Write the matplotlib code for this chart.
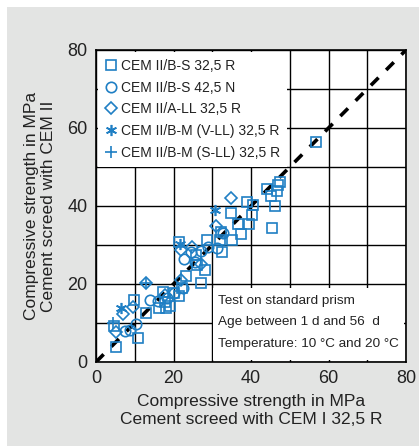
import matplotlib
matplotlib.use("Agg")
import matplotlib.pyplot as plt
from matplotlib.patches import Rectangle
from matplotlib.ticker import MultipleLocator

plt.rcParams['font.family'] = ['Liberation Sans', 'DejaVu Sans']

# strength pairs (CEM I 32,5 R screed, CEM II screed) in MPa
sq_x = [56.8, 47.5, 46.9, 44.0, 46.6, 45.2, 39.0, 40.6, 46.2, 34.8, 40.3, 36.7, 39.6, 45.5,
        37.3, 35.0, 32.0, 32.2, 28.7, 21.4, 32.6, 26.0, 28.1, 23.2, 27.0, 22.1, 21.5, 17.4,
        17.8, 19.1, 20.2, 16.3, 18.1, 9.9, 12.9, 4.7, 10.8, 5.2, 25.8]
sq_y = [56.5, 46.2, 45.5, 44.3, 43.8, 42.6, 41.1, 40.3, 39.9, 38.3, 37.8, 35.4, 35.4, 34.4,
        32.7, 31.3, 31.3, 33.4, 31.3, 30.8, 28.3, 24.9, 23.6, 22.0, 20.2, 18.9, 16.9, 18.0,
        15.3, 14.4, 17.6, 13.8, 13.8, 15.9, 12.6, 9.2, 6.2, 3.9, 27.4]

ci_x = [32.9, 28.9, 31.1, 27.0, 24.4, 22.8, 25.6, 22.4, 20.2, 18.2, 15.9, 14.0, 10.3, 8.7, 7.6]
ci_y = [33.2, 29.6, 29.3, 28.5, 28.3, 26.4, 25.6, 18.9, 17.8, 16.3, 15.7, 15.9, 9.7, 8.3, 8.0]

di_x = [34.8, 30.9, 24.9, 22.0, 27.0, 21.9, 12.9, 17.8, 9.6, 7.0, 5.2]
di_y = [42.0, 34.9, 29.5, 28.7, 25.1, 21.1, 20.2, 17.2, 14.1, 12.2, 7.8]

ast_x = [6.5, 21.8, 30.7]
ast_y = [13.8, 30.2, 39.0]

pl_x = [4.5, 12.9]
pl_y = [9.9, 20.2]

labels = ['CEM II/B-S 32,5 R', 'CEM II/B-S 42,5 N', 'CEM II/A-LL 32,5 R',
          'CEM II/B-M (V-LL) 32,5 R', 'CEM II/B-M (S-LL) 32,5 R']
notes = ['Test on standard prism', 'Age between 1 d and 56  d',
         'Temperature: 10 °C and 20 °C']

blue = '#1f7fc4'
ink = '#222222'
fig = plt.figure(figsize=(4.19, 4.46), dpi=100)
fig.patches.append(Rectangle((7 / 419, 0), 1, 1 - 7 / 446, transform=fig.transFigure,
                             facecolor='#e3e4e3', edgecolor='none', zorder=-10))
ax = fig.add_axes([96 / 419, 84 / 446, 310 / 419, 312 / 446])
ax.set_facecolor('white')
ax.set_xlim(0, 80)
ax.set_ylim(0, 80)
ax.xaxis.set_major_locator(MultipleLocator(20))
ax.yaxis.set_major_locator(MultipleLocator(20))
ax.xaxis.set_minor_locator(MultipleLocator(10))
ax.yaxis.set_minor_locator(MultipleLocator(10))
ax.grid(True, which='both', color='black', lw=1.0, zorder=0)
ax.set_axisbelow(True)
ax.tick_params(which='both', length=0, labelsize=13, pad=6, colors=ink)
for s in ax.spines.values():
    s.set_linewidth(1.2)

ax.plot([0, 80], [0, 80], color='black', lw=2.6, linestyle=(0, (3, 3)), zorder=2)

mk = dict(linestyle='none', markeredgecolor=blue, markeredgewidth=1.2, zorder=3)
ax.plot(sq_x, sq_y, marker='s', markersize=7, markerfacecolor='none', label=labels[0], **mk)
ax.plot(ci_x, ci_y, marker='o', markersize=7.5, markerfacecolor='none', label=labels[1], **mk)
ax.plot(di_x, di_y, marker='D', markersize=6.5, markerfacecolor='none', label=labels[2], **mk)
ax.plot(ast_x, ast_y, marker=(6, 2, 0), markersize=8, label=labels[3], **mk)
ax.plot(pl_x, pl_y, marker='+', markersize=9, label=labels[4], **mk)

leg = ax.legend(loc='upper left', fontsize=10, frameon=True, fancybox=False,
                framealpha=1, edgecolor='none', facecolor='white',
                borderaxespad=0.15, borderpad=0.5, handlelength=0.8,
                handletextpad=0.35, labelspacing=0.55)
leg.set_zorder(4)
for t in leg.get_texts():
    t.set_color(ink)

# white panel behind the test-condition notes
ax.add_patch(Rectangle((0.377, 0.006), 0.617, 0.232, transform=ax.transAxes,
                       facecolor='white', edgecolor='none', zorder=4))
for i, line in enumerate(notes):
    ax.text(0.392, 0.195 - i * 0.068, line, transform=ax.transAxes, fontsize=9.7,
            color=ink, va='center', ha='left', zorder=5)

ax.set_xlabel('Compressive strength in MPa\nCement screed with CEM I 32,5 R',
              fontsize=12.5, color=ink, labelpad=5, linespacing=1.2)
ax.set_ylabel('Compressive strength in MPa\nCement screed with CEM II',
              fontsize=12.5, color=ink, labelpad=8, linespacing=1.2)

fig.savefig('out.png', dpi=100)
